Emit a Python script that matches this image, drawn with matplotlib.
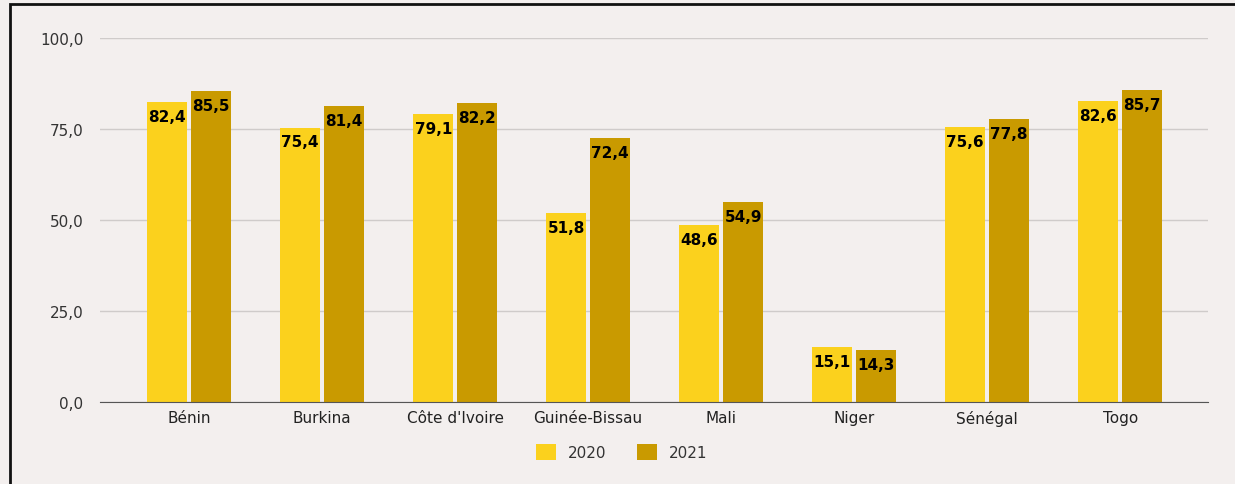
import numpy as np
import matplotlib.pyplot as plt
from matplotlib.patches import Rectangle

countries = ["Bénin", "Burkina", "Côte d'Ivoire", "Guinée-Bissau", "Mali", "Niger", "Sénégal", "Togo"]
values_2020 = [82.4, 75.4, 79.1, 51.8, 48.6, 15.1, 75.6, 82.6]
values_2021 = [85.5, 81.4, 82.2, 72.4, 54.9, 14.3, 77.8, 85.7]
years = ["2020", "2021"]
yticks = [0, 25, 50, 75, 100]

bg = '#f3efee'
col_2020 = '#fbd11d'
col_2021 = '#c99a00'

plt.rcParams['font.family'] = ['DejaVu Sans']

fig = plt.figure(figsize=(12.35, 4.85), dpi=100, facecolor=bg)
ax = fig.add_axes([100 / 1235, 1 - 403 / 485, 1108 / 1235, 364 / 485])
ax.set_facecolor(bg)

x = np.arange(len(countries))
w = 0.30
off = 0.165
b1 = ax.bar(x - off, values_2020, w, color=col_2020, label=years[0], zorder=3)
b2 = ax.bar(x + off, values_2021, w, color=col_2021, label=years[1], zorder=3)

def fmt(v):
    return f"{v:.1f}".replace('.', ',')

for bars, vals in [(b1, values_2020), (b2, values_2021)]:
    for rect, v in zip(bars, vals):
        ax.annotate(fmt(v), (rect.get_x() + rect.get_width() / 2, v),
                    xytext=(0, -5), textcoords='offset points',
                    ha='center', va='top', fontsize=11, fontweight='bold',
                    color='black', zorder=4)

ax.set_xlim(-0.67, 7.66)
ax.set_ylim(0, 100)
ax.set_yticks(yticks)
ax.set_yticklabels([fmt(t) for t in yticks], fontsize=11, color='#333333')
ax.set_xticks(x)
ax.set_xticklabels(countries, fontsize=11, color='#222222')
ax.tick_params(axis='y', length=0, pad=12)
ax.tick_params(axis='x', length=0, pad=6)
ax.grid(axis='y', color='#cfcbca', linewidth=1, zorder=0)
for s in ['top', 'right', 'left']:
    ax.spines[s].set_visible(False)
ax.spines['bottom'].set_color('#555555')
ax.spines['bottom'].set_zorder(5)

fig.legend(handles=[b1, b2], labels=years, loc='center', bbox_to_anchor=(622 / 1235, 1 - 453 / 485),
           ncol=2, frameon=False, fontsize=11, handlelength=1.3, handleheight=1.3,
           columnspacing=2.0, handletextpad=0.8, labelcolor='#333333')

fig.patches.append(Rectangle((10 / 1235, -0.01), 1.1, 1 - 5 / 485 + 0.01, transform=fig.transFigure,
                             fill=False, edgecolor='#111111', linewidth=2))

fig.savefig('out.png', dpi=100, facecolor=bg)
